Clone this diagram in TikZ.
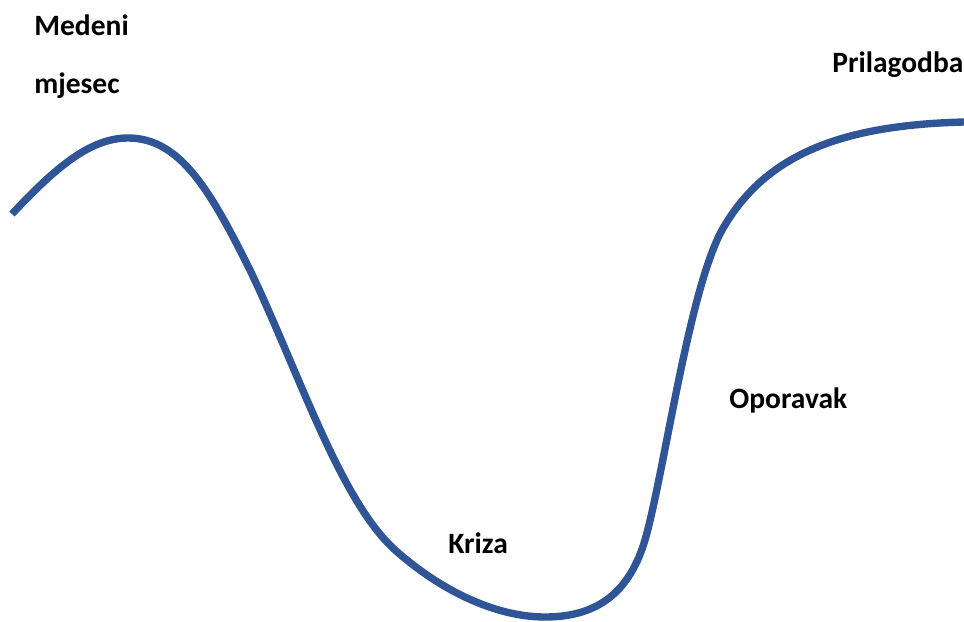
\documentclass[tikz,border=0pt]{standalone}
\usepackage{fontspec}
\setmainfont{Carlito}
\definecolor{kurve}{HTML}{2F5597}
\begin{document}
\begin{tikzpicture}[x=0.02cm,y=-0.02cm,
  lbl/.style={anchor=base west,inner sep=0pt,font=\fontsize{16.8}{20}\selectfont\bfseries}]
\useasboundingbox (0,0) rectangle (964,622);

\node[lbl] (medeni) at (34,35) {Medeni};
\node[lbl] (mjesec) at (34,93) {mjesec};
\node[lbl] (prilagodba) at (832,72) {Prilagodba};
\node[lbl] (oporavak) at (729,408) {Oporavak};
\node[lbl] (kriza) at (448,553) {Kriza};

\draw[color=kurve,line width=4.2pt] (12,214) .. controls (55,168) and (90,138) .. (128,138)
  .. controls (180,138) and (210,190) .. (250,270)
  .. controls (300,375) and (340,500) .. (395,550)
  .. controls (440,590) and (495,617) .. (545,617)
  .. controls (600,617) and (630,590) .. (645,540)
  .. controls (665,470) and (690,280) .. (725,225)
  .. controls (770,150) and (850,125) .. (964,122);

\end{tikzpicture}
\end{document}
